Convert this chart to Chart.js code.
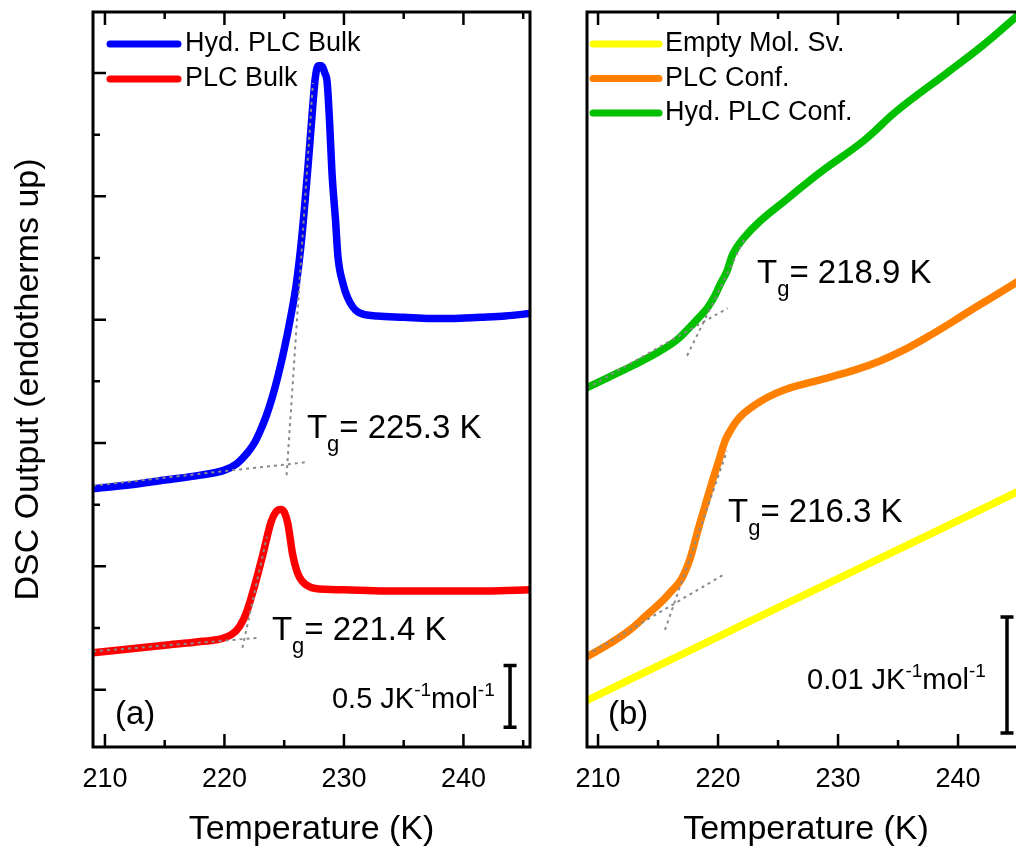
<!DOCTYPE html>
<html>
<head>
<meta charset="utf-8">
<script src="https://cdn.jsdelivr.net/npm/chart.js@4.4.1/dist/chart.umd.min.js"></script>
<style>
  html, body { margin: 0; padding: 0; overflow: hidden; background: #fff; }
  #panelA { position: absolute; left: 0; top: 0; }
  #panelB { position: absolute; left: 558px; top: 0; }
</style>
</head>
<body>
<canvas id="panelA" width="560" height="847"></canvas>
<canvas id="panelB" width="500" height="847"></canvas>
<script>
const FONT = '"Liberation Sans", Arial, Helvetica, sans-serif';

// Temperature axis, shared by both panels
const tempTicks = [210, 220, 230, 240];
const tempMinorTicks = [215, 225, 235, 245];

// Panel (a) y ticks, J K^-1 mol^-1 (offset scale)
const cpTicksA = [0, 1, 2, 3, 4, 5];
const cpMinorTicksA = [0.5, 1.5, 2.5, 3.5, 4.5];

// (a) Hyd. PLC Bulk
const hydBulkT  = [209.0, 212, 215, 218, 220, 221, 222, 222.5, 223, 223.5, 224, 224.5, 225, 225.5, 226, 226.4, 226.7, 227.0, 227.3, 227.6, 227.85, 228.1, 228.4, 228.6, 228.8, 229.0, 229.3, 229.5, 229.9, 230.3, 231.2, 232.8, 235, 237.2, 239, 241.4, 243.5, 245.6];
const hydBulkCp = [1.63, 1.66, 1.70, 1.74, 1.78, 1.83, 1.93, 2.00, 2.10, 2.22, 2.37, 2.55, 2.76, 3.00, 3.28, 3.60, 3.91, 4.25, 4.62, 4.96, 5.06, 5.06, 5.00, 4.92, 4.60, 4.19, 3.80, 3.51, 3.30, 3.18, 3.06, 3.03, 3.02, 3.01, 3.01, 3.02, 3.03, 3.05];

// (a) PLC Bulk
const bulkT  = [209.0, 212, 215, 218, 220, 221, 221.6, 222.0, 222.4, 222.8, 223.2, 223.5, 223.9, 224.3, 224.7, 225.0, 225.3, 225.7, 226.1, 226.5, 227.0, 227.6, 230, 233.4, 238, 242, 245.6];
const bulkCp = [0.30, 0.33, 0.36, 0.39, 0.42, 0.48, 0.57, 0.67, 0.80, 0.94, 1.09, 1.21, 1.36, 1.44, 1.46, 1.44, 1.35, 1.10, 0.95, 0.88, 0.84, 0.82, 0.81, 0.80, 0.80, 0.80, 0.81];

// (a) Tg constructions: baseline and steepest tangent, [T, Cp] end points
const hydBulkBase    = [[209.0, 1.655], [226.9, 1.845]];
const hydBulkTangent = [[225.2, 1.74], [227.4, 4.92]];
const bulkBase       = [[209.0, 0.31], [222.8, 0.42]];
const bulkTangent    = [[221.5, 0.34], [223.55, 1.24]];
const tgA = ['225.3', '221.4'];
const scaleBarA = 0.5; // J K^-1 mol^-1

// (b) confined samples, y in mJ K^-1 mol^-1 (offset scale)
const emptyT  = [209.0, 215, 220, 225, 230, 235, 240, 245.6];
const emptyCp = [3.55, 6.57, 9.07, 11.58, 14.08, 16.58, 19.09, 21.9];

const confT  = [209.0, 211, 212.7, 214, 215.2, 216.1, 216.8, 217.3, 217.7, 218.1, 218.5, 218.9, 219.3, 219.8, 220.2, 220.6, 221.0, 221.5, 222.1, 223, 224.1, 225.5, 227.5, 229.5, 231.5, 233.5, 235.5, 237.5, 239.5, 241.5, 243.5, 245.6];
const confCp = [7.3, 8.5, 9.7, 10.9, 12.0, 13.0, 13.8, 14.8, 15.9, 17.4, 18.9, 20.3, 21.7, 23.4, 24.7, 26.0, 26.8, 27.6, 28.3, 29.0, 29.7, 30.35, 30.95, 31.5, 32.1, 32.85, 33.8, 34.95, 36.2, 37.5, 38.75, 40.1];

const hydConfT  = [209.0, 211, 213, 215, 216.5, 217.5, 218.5, 219.1, 219.7, 220.2, 220.75, 221.25, 222.1, 223.5, 225.75, 228.5, 232.1, 234.9, 239.1, 242, 244.6, 245.6];
const hydConfCp = [30.5, 31.5, 32.5, 33.6, 34.6, 35.6, 36.7, 37.4, 38.4, 39.5, 40.6, 42.1, 43.4, 44.9, 46.8, 49.1, 51.8, 54.4, 57.7, 60.0, 62.3, 63.2];

const hydConfBase    = [[209.08, 30.5], [220.8, 37.4]];
const hydConfTangent = [[217.42, 33.3], [222.25, 43.5]];
const confBase       = [[209.08, 7.5], [220.42, 14.4]];
const confTangent    = [[215.58, 9.66], [220.75, 25.1]];
const tgB = ['218.9', '216.3'];
const scaleBarB = 0.01; // J K^-1 mol^-1

Chart.defaults.font.family = FONT;
Chart.defaults.color = '#000';

// sharp peaks keep monotone interpolation, the smooth steps use plain tension
function curve(label, T, cp, color, smooth) {
  const ds = {
    label, legend: true,
    data: T.map((t, i) => ({ x: t, y: cp[i] })),
    borderColor: color, borderWidth: 7.5,
    pointRadius: 0, fill: false, clip: 0, order: 1
  };
  if (smooth) ds.tension = 0.4;
  else ds.cubicInterpolationMode = 'monotone';
  return ds;
}

function dotted(seg) {
  return {
    label: '', legend: false,
    data: seg.map(p => ({ x: p[0], y: p[1] })),
    borderColor: '#8a8a8a', borderWidth: 2, borderDash: [3, 4],
    pointRadius: 0, fill: false, clip: 0, order: 0, tension: 0
  };
}

// text made of runs, for subscripts / superscripts
function drawRuns(ctx, x, y, runs) {
  runs.forEach(r => {
    ctx.font = r.size + 'px ' + FONT;
    ctx.fillText(r.text, x, y + (r.dy || 0));
    x += ctx.measureText(r.text).width;
  });
}

function tgRuns(val) {
  return [
    { text: 'T', size: 33 },
    { text: 'g', size: 22, dy: 13 },
    { text: '= ' + val + ' K', size: 33 }
  ];
}

function unitRuns(val) {
  return [
    { text: val + ' JK', size: 29 },
    { text: '-1', size: 19, dy: -12 },
    { text: 'mol', size: 29 },
    { text: '-1', size: 19, dy: -12 }
  ];
}

// frame, inward ticks, legend, Tg labels and scale bar
function decor(cfg) {
  return {
    id: 'dscDecor',
    afterDatasetsDraw(chart) {
      const { ctx, chartArea: a, scales: { x, y } } = chart;
      ctx.save();
      ctx.strokeStyle = '#000';
      ctx.lineWidth = 3;
      ctx.strokeRect(a.left, a.top, a.right - a.left, a.bottom - a.top);

      ctx.lineWidth = 2.5;
      ctx.beginPath();
      const xt = (v, len) => {
        const px = x.getPixelForValue(v);
        ctx.moveTo(px, a.top); ctx.lineTo(px, a.top + len);
        ctx.moveTo(px, a.bottom); ctx.lineTo(px, a.bottom - len);
      };
      tempTicks.forEach(v => xt(v, 13));
      tempMinorTicks.forEach(v => xt(v, 7));
      if (cfg.yTicks) {
        const yt = (v, len) => {
          const py = y.getPixelForValue(v);
          ctx.moveTo(a.left, py); ctx.lineTo(a.left + len, py);
        };
        cfg.yTicks.forEach(v => yt(v, 13));
        cfg.yMinorTicks.forEach(v => yt(v, 7));
      }
      ctx.stroke();

      // legend
      const items = chart.data.datasets.filter(d => d.legend);
      ctx.lineCap = 'round';
      ctx.lineWidth = 7;
      ctx.font = '27px ' + FONT;
      ctx.textBaseline = 'middle';
      ctx.fillStyle = '#000';
      items.forEach((d, i) => {
        const ly = cfg.legend.top + i * cfg.legend.step;
        ctx.strokeStyle = d.borderColor;
        ctx.beginPath();
        ctx.moveTo(cfg.legend.x0, ly); ctx.lineTo(cfg.legend.x1, ly);
        ctx.stroke();
        ctx.fillText(d.label, cfg.legend.textX, ly);
      });

      // Tg labels
      ctx.textBaseline = 'alphabetic';
      cfg.tg.forEach(t => {
        drawRuns(ctx, x.getPixelForValue(t.at[0]), y.getPixelForValue(t.at[1]), tgRuns(t.val));
      });

      // panel letter
      ctx.font = '33px ' + FONT;
      ctx.fillText(cfg.letter, a.left + cfg.letterDx, a.bottom - 23);

      // scale bar
      const bx = x.getPixelForValue(cfg.bar.t);
      const by0 = y.getPixelForValue(cfg.bar.from);
      const by1 = y.getPixelForValue(cfg.bar.from + cfg.bar.len);
      ctx.strokeStyle = '#000';
      ctx.lineCap = 'butt';
      ctx.lineWidth = 3.5;
      ctx.beginPath();
      ctx.moveTo(bx, by0); ctx.lineTo(bx, by1);
      ctx.moveTo(bx - 6.5, by0); ctx.lineTo(bx + 6.5, by0);
      ctx.moveTo(bx - 6.5, by1); ctx.lineTo(bx + 6.5, by1);
      ctx.stroke();
      drawRuns(ctx, x.getPixelForValue(cfg.barLabel.at[0]), y.getPixelForValue(cfg.barLabel.at[1]), unitRuns(cfg.barLabel.text));
      ctx.restore();
    }
  };
}

function xAxis(min, max) {
  return {
    type: 'linear', position: 'bottom', min, max,
    afterBuildTicks: s => { s.ticks = tempTicks.map(v => ({ value: v })); },
    afterFit: s => { s.height = 100; },
    grid: { display: false }, border: { display: false },
    ticks: { font: { size: 27 }, color: '#000', padding: 8, maxRotation: 0 },
    title: { display: true, text: 'Temperature (K)', font: { size: 34 }, color: '#000', padding: { top: 0, bottom: -3 } }
  };
}

function baseOptions(xMin, xMax, yMin, yMax, yWidth, yTitle, padRight) {
  return {
    responsive: false, animation: false, events: [],
    layout: { padding: { top: 12, right: padRight, left: 0, bottom: 0 } },
    plugins: { legend: { display: false }, tooltip: { enabled: false } },
    scales: {
      x: xAxis(xMin, xMax),
      y: {
        type: 'linear', position: 'left', min: yMin, max: yMax,
        afterFit: s => { s.width = yWidth; },
        grid: { display: false }, border: { display: false },
        ticks: { display: false },
        title: yTitle
          ? { display: true, text: yTitle, font: { size: 34 }, color: '#000', padding: { top: 8, bottom: 0 } }
          : { display: false }
      }
    }
  };
}

new Chart(document.getElementById('panelA'), {
  type: 'line',
  data: {
    datasets: [
      curve('Hyd. PLC Bulk', hydBulkT, hydBulkCp, '#0000ff', false),
      curve('PLC Bulk', bulkT, bulkCp, '#ff0000', false),
      dotted(hydBulkBase), dotted(hydBulkTangent),
      dotted(bulkBase), dotted(bulkTangent)
    ]
  },
  options: baseOptions(209.0, 245.57, -0.465, 5.495, 93, 'DSC Output (endotherms up)', 30),
  plugins: [decor({
    yTicks: cpTicksA, yMinorTicks: cpMinorTicksA,
    legend: { x0: 110, x1: 178, textX: 185, top: 44, step: 35 },
    tg: [{ val: tgA[0], at: [226.9, 2.04] }, { val: tgA[1], at: [223.97, 0.40] }],
    letter: '(a)', letterDx: 22,
    bar: { t: 243.9, from: -0.305, len: scaleBarA },
    barLabel: { text: String(scaleBarA), at: [229.0, -0.148] }
  })]
});

new Chart(document.getElementById('panelB'), {
  type: 'line',
  data: {
    datasets: [
      curve('Empty Mol. Sv.', emptyT, emptyCp, '#ffff00', true),
      curve('PLC Conf.', confT, confCp, '#ff8000', true),
      curve('Hyd. PLC Conf.', hydConfT, hydConfCp, '#00c000', true),
      dotted(hydConfBase), dotted(hydConfTangent),
      dotted(confBase), dotted(confTangent)
    ]
  },
  options: baseOptions(209.08, 245.58, -0.43, 62.93, 29, null, 33),
  plugins: [decor({
    legend: { x0: 35, x1: 101, textX: 107, top: 44, step: 34.5 },
    tg: [{ val: tgB[0], at: [223.25, 39.6] }, { val: tgB[1], at: [220.83, 18.97] }],
    letter: '(b)', letterDx: 21,
    bar: { t: 244.08, from: 0.78, len: scaleBarB * 1000 },
    barLabel: { text: String(scaleBarB), at: [227.42, 4.57] }
  })]
});
</script>
</body>
</html>
